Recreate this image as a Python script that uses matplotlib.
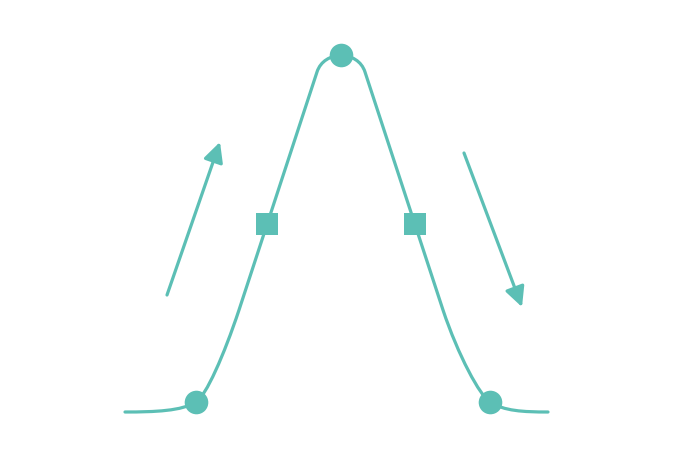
import matplotlib
matplotlib.use("Agg")
import matplotlib.pyplot as plt
from matplotlib.path import Path
from matplotlib.patches import PathPatch

TEAL = "#5cbfb5"

# curve outline (bezier vertices), canvas units, y up
curve_x = [125, 155, 182, 196, 206, 224, 239, 317, 324, 358, 365,
           443, 458, 480, 490, 504, 523, 548]
curve_y = [38, 38, 39, 48, 54, 95, 140, 378, 400, 400, 378,
           140, 95, 54, 48, 39, 38, 38]
C4, LN = Path.CURVE4, Path.LINETO
curve_codes = [Path.MOVETO, C4, C4, C4, C4, C4, C4, LN, C4, C4, C4,
               LN, C4, C4, C4, C4, C4, C4]

# markers on the curve
circle_x = [196, 341, 490]
circle_y = [48, 395, 48]
square_x = [267, 415]
square_y = [226, 226]

# arrows (tail -> tip)
arrow_tail_x = [167, 464]
arrow_tail_y = [155, 297]
arrow_tip_x = [220, 522]
arrow_tip_y = [308, 143]

fig = plt.figure(figsize=(6.75, 4.5), dpi=100)
ax = fig.add_axes([0, 0, 1, 1])
ax.set_xlim(0, 675)
ax.set_ylim(0, 450)
ax.axis("off")

path = Path(list(zip(curve_x, curve_y)), curve_codes)
ax.add_patch(PathPatch(path, facecolor="none", edgecolor=TEAL, lw=2.3, capstyle="round"))

ax.plot(circle_x, circle_y, "o", color=TEAL, markersize=17, markeredgewidth=0, zorder=3)
ax.plot(square_x, square_y, "s", color=TEAL, markersize=16, markeredgewidth=0, zorder=3)

for x0, y0, x1, y1 in zip(arrow_tail_x, arrow_tail_y, arrow_tip_x, arrow_tip_y):
    ax.annotate("", xy=(x1, y1), xytext=(x0, y0),
                arrowprops=dict(arrowstyle="-|>,head_length=0.6,head_width=0.3",
                                color=TEAL, lw=2.3, mutation_scale=20,
                                shrinkA=0, shrinkB=0))

fig.savefig("out.png", dpi=100)
